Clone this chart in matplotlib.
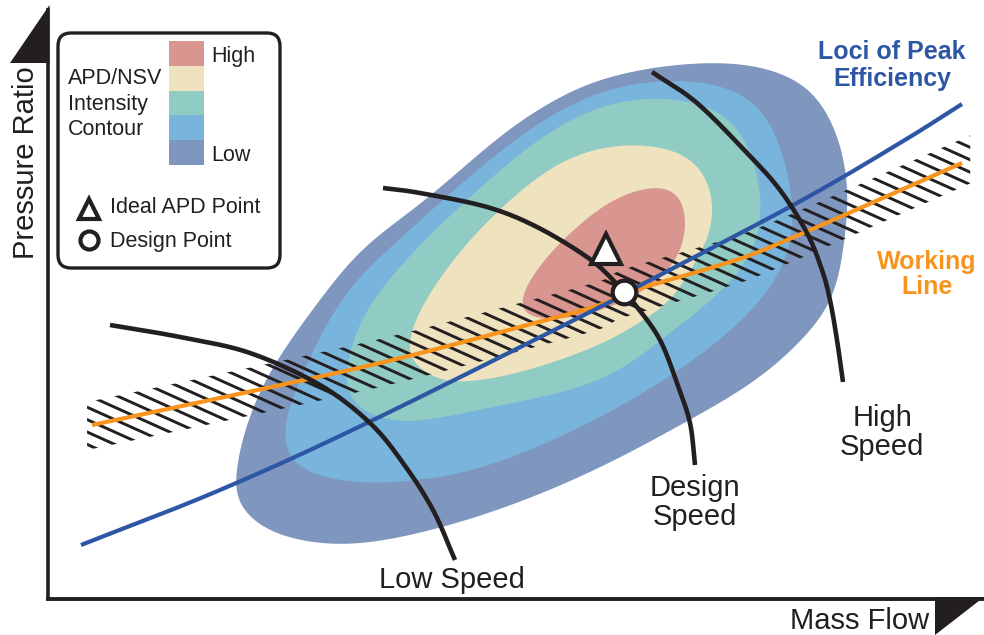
import numpy as np
import matplotlib
matplotlib.use("Agg")
import matplotlib.pyplot as plt
from matplotlib.patches import Polygon, FancyBboxPatch, Rectangle

plt.rcParams['font.family'] = ['Liberation Sans', 'DejaVu Sans']

# ---------------------------------------------------------------------------
# Compressor map data (canvas units: x = mass flow, y = pressure ratio, y down)
# ---------------------------------------------------------------------------
level_names = ["Low", "Low-mid", "Mid", "Mid-high", "High"]
level_colors = ["#7F96BE", "#78B4DC", "#90CBC4", "#EFE2BF", "#D9958F"]

# APD/NSV intensity contour outlines, outermost (low) to innermost (high)
low_x = [600, 650, 720, 780, 820, 842, 848, 843, 832, 800, 750, 680, 600, 500, 400, 330, 270, 240, 236, 245, 270, 320, 365, 427, 500, 560]
low_y = [80, 68, 62, 72, 100, 150, 200, 250, 300, 342, 385, 425, 468, 510, 538, 545, 532, 505, 475, 430, 370, 300, 245, 200, 135, 97]

lowmid_x = [600, 680, 740, 775, 793, 788, 761, 720, 660, 580, 487, 420, 360, 310, 287, 286, 300, 339, 390, 443, 520]
lowmid_y = [90, 80, 92, 130, 200, 255, 300, 340, 383, 428, 467, 480, 483, 473, 452, 420, 380, 300, 248, 200, 135]

mid_x = [600, 670, 720, 748, 762, 752, 712, 660, 600, 500, 430, 387, 356, 346, 352, 372, 420, 467, 530]
mid_y = [105, 98, 112, 145, 200, 255, 300, 340, 383, 405, 420, 420, 405, 380, 345, 300, 245, 200, 145]

midhigh_x = [600, 645, 685, 707, 713, 705, 690, 671, 640, 600, 530, 470, 435, 412, 410, 425, 465, 510, 555]
midhigh_y = [148, 145, 155, 180, 213, 245, 270, 300, 322, 345, 370, 382, 378, 360, 338, 300, 245, 200, 165]

high_x = [620, 663, 684, 684, 670, 645, 610, 570, 535, 521, 530, 553, 585]
high_y = [196, 186, 205, 240, 268, 290, 307, 318, 318, 305, 280, 250, 220]

contour_x = [low_x, lowmid_x, mid_x, midhigh_x, high_x]
contour_y = [low_y, lowmid_y, mid_y, midhigh_y, high_y]

# Operating lines
working_x = [92, 220, 380, 520, 600, 625, 720, 780, 962]
working_y = [425, 398, 363, 327, 305, 293, 265, 243, 163]

peak_eff_x = [81, 220, 367, 600, 637, 797, 900, 962]
peak_eff_y = [545, 490, 423, 307, 287, 203, 143, 104]

# Constant speed lines
low_speed_x = [110, 180, 250, 320, 370, 403, 433, 455]
low_speed_y = [325, 337, 353, 385, 423, 463, 510, 560]

design_speed_x = [383, 420, 487, 537, 587, 613, 637, 660, 677, 690, 695]
design_speed_y = [188, 193, 207, 227, 257, 280, 307, 340, 383, 423, 465]

high_speed_x = [652, 697, 747, 780, 807, 822, 830, 837, 843]
high_speed_y = [72, 103, 153, 190, 233, 270, 300, 340, 382]

design_point = (624, 292)
ideal_apd_point = (606, 249)

BLACK = "#231F20"
BLUE = "#2D56A5"
ORANGE = "#F7941D"


def catmull_rom(xs, ys, closed=False, n=24):
    pts = np.column_stack([xs, ys]).astype(float)
    if closed:
        P = np.vstack([pts[-1], pts, pts[0], pts[1]])
    else:
        P = np.vstack([2 * pts[0] - pts[1], pts, 2 * pts[-1] - pts[-2]])
    out = []
    t = np.linspace(0, 1, n, endpoint=False)[:, None]
    for i in range(1, len(P) - 2):
        p0, p1, p2, p3 = P[i - 1], P[i], P[i + 1], P[i + 2]
        seg = 0.5 * (2 * p1 + (-p0 + p2) * t + (2 * p0 - 5 * p1 + 4 * p2 - p3) * t ** 2
                     + (-p0 + 3 * p1 - 3 * p2 + p3) * t ** 3)
        out.append(seg)
    if not closed:
        out.append(pts[-1][None, :])
    return np.vstack(out)


def smooth_closed(curve, width):
    # circular moving-average to even out the outline
    k = np.ones(width) / width
    pad = width
    ext = np.vstack([curve[-pad:], curve, curve[:pad]])
    sx = np.convolve(ext[:, 0], k, mode="same")[pad:-pad]
    sy = np.convolve(ext[:, 1], k, mode="same")[pad:-pad]
    return np.column_stack([sx, sy])


fig = plt.figure(figsize=(9.84, 6.35), dpi=100)
ax = fig.add_axes([0, 0, 1, 1])
ax.set_xlim(0, 984)
ax.set_ylim(635, 0)
ax.axis("off")

# Intensity contours
for cx, cy, col in zip(contour_x, contour_y, level_colors):
    curve = catmull_rom(cx, cy, closed=True)
    curve = smooth_closed(curve, 31)
    ax.fill(curve[:, 0], curve[:, 1], color=col, lw=0, zorder=1)

# Hatched band along the working line
wl = catmull_rom(working_x, working_y)
ext_l = wl[0] + (wl[0] - wl[3]) / np.linalg.norm(wl[0] - wl[3]) * 5
ext_r = wl[-1] + (wl[-1] - wl[-4]) / np.linalg.norm(wl[-1] - wl[-4]) * 9
band_c = np.vstack([ext_l, wl, ext_r])
half = 24
band_poly = np.vstack([band_c + [0, -half], (band_c + [0, half])[::-1]])
band = Polygon(band_poly, closed=True, facecolor="none", edgecolor="none")
ax.add_patch(band)
slope = 0.45
xx = np.array([0, 984])
for c in np.arange(-500, 700, 12.4):
    ln, = ax.plot(xx, slope * xx + c, color=BLACK, lw=2.1, solid_capstyle="butt", zorder=2)
    ln.set_clip_path(band)

# Working line and loci of peak efficiency
ax.plot(wl[:, 0], wl[:, 1], color=ORANGE, lw=3.0, zorder=3, solid_capstyle="butt")
pe = catmull_rom(peak_eff_x, peak_eff_y)
ax.plot(pe[:, 0], pe[:, 1], color=BLUE, lw=3.0, zorder=3, solid_capstyle="butt")

# Speed lines
for sx, sy in [(low_speed_x, low_speed_y), (design_speed_x, design_speed_y), (high_speed_x, high_speed_y)]:
    s = catmull_rom(sx, sy)
    ax.plot(s[:, 0], s[:, 1], color=BLACK, lw=3.3, zorder=4, solid_capstyle="butt")

# Points
ax.plot(*ideal_apd_point, marker="^", ms=21, mfc="white", mec=BLACK, mew=3.0, zorder=5)
ax.plot(*design_point, marker="o", ms=17, mfc="white", mec=BLACK, mew=3.0, zorder=5)

# Axes with arrow heads
ax.plot([48, 48], [8, 600], color=BLACK, lw=2.6, zorder=6, solid_capstyle="butt")
ax.plot([46, 984], [599, 599], color=BLACK, lw=2.8, zorder=6, solid_capstyle="butt")
ax.add_patch(Polygon([[10, 63], [49.5, 5], [49.5, 63]], closed=True, color=BLACK, lw=0, zorder=6))
ax.add_patch(Polygon([[935, 597], [984, 597], [935, 635]], closed=True, color=BLACK, lw=0, zorder=6))

# Labels
big = 21
ax.text(26, 163, "Pressure Ratio", rotation=90, ha="center", va="center", fontsize=big, color=BLACK)
ax.text(860, 629, "Mass Flow", ha="center", va="baseline", fontsize=big, color=BLACK)
ax.text(452, 588, "Low Speed", ha="center", va="baseline", fontsize=big, color=BLACK)
ax.text(695, 496, "Design", ha="center", va="baseline", fontsize=big, color=BLACK)
ax.text(695, 525, "Speed", ha="center", va="baseline", fontsize=big, color=BLACK)
ax.text(883, 426, "High", ha="center", va="baseline", fontsize=big, color=BLACK)
ax.text(882, 455, "Speed", ha="center", va="baseline", fontsize=big, color=BLACK)
ax.text(892, 59, "Loci of Peak", ha="center", va="baseline", fontsize=18, fontweight="bold", color=BLUE)
ax.text(892, 86, "Efficiency", ha="center", va="baseline", fontsize=18, fontweight="bold", color=BLUE)
ax.text(927, 269, "Working", ha="center", va="baseline", fontsize=18, fontweight="bold", color=ORANGE)
ax.text(927, 294, "Line", ha="center", va="baseline", fontsize=18, fontweight="bold", color=ORANGE)

# Legend box
box = FancyBboxPatch((58, 33), 222, 235, boxstyle="round,pad=0,rounding_size=13",
                     facecolor="white", edgecolor=BLACK, lw=2.4, zorder=7)
ax.add_patch(box)
sw_top, sw_h = 41, 24.8
for i, col in enumerate(level_colors[::-1]):
    ax.add_patch(Rectangle((169, sw_top + i * sw_h), 35, sw_h, facecolor=col, lw=0, zorder=8))
lg = 15.5
ax.text(211, 62, "High", ha="left", va="baseline", fontsize=lg, color=BLACK, zorder=8)
ax.text(211, 161, "Low", ha="left", va="baseline", fontsize=lg, color=BLACK, zorder=8)
ax.text(68, 84, "APD/NSV", ha="left", va="baseline", fontsize=lg, color=BLACK, zorder=8)
ax.text(68, 110, "Intensity", ha="left", va="baseline", fontsize=lg, color=BLACK, zorder=8)
ax.text(68, 135, "Contour", ha="left", va="baseline", fontsize=lg, color=BLACK, zorder=8)
ax.plot(89, 209, marker="^", ms=15, mfc="white", mec=BLACK, mew=3.0, zorder=8)
ax.plot(89, 240, marker="o", ms=13, mfc="white", mec=BLACK, mew=3.0, zorder=8)
ax.text(110, 213, "Ideal APD Point", ha="left", va="baseline", fontsize=lg, color=BLACK, zorder=8)
ax.text(110, 247, "Design Point", ha="left", va="baseline", fontsize=lg, color=BLACK, zorder=8)

fig.savefig("out.png", dpi=100)
